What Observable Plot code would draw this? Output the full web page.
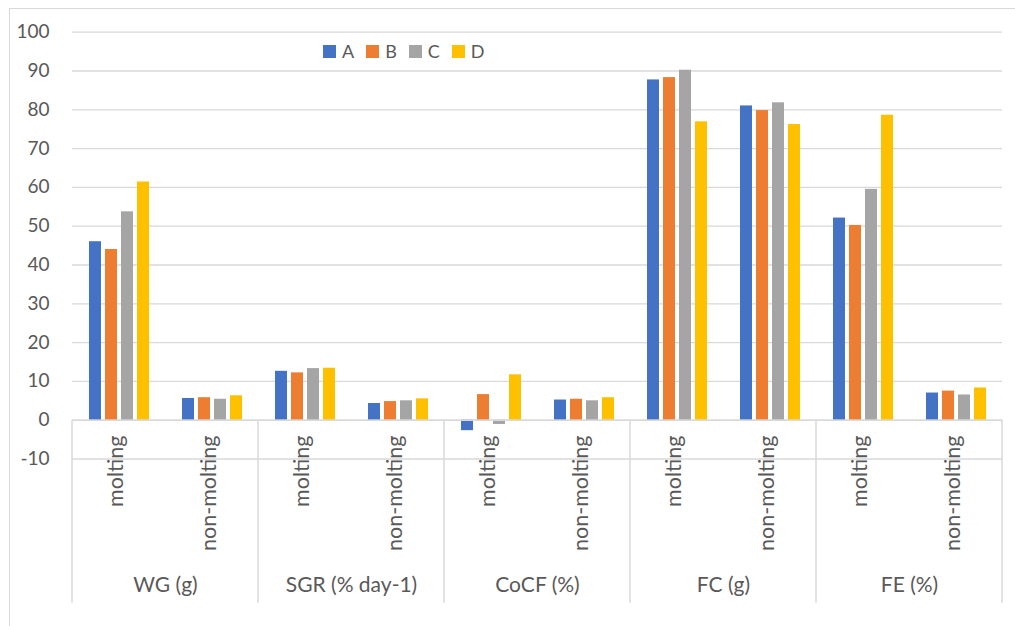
<!DOCTYPE html>
<html>
<head>
<meta charset="utf-8">
<script src="https://cdn.jsdelivr.net/npm/d3@7"></script>
<script src="https://cdn.jsdelivr.net/npm/@observablehq/plot@0.6"></script>
<style>
  html, body { margin: 0; padding: 0; background: #fff; overflow: hidden; }
  #wrap { position: relative; width: 1015px; height: 626px; }
  #border { position: absolute; left: 9px; top: 8px; width: 1100px; height: 700px; border: 1px solid #d9d9d9; box-sizing: border-box; }
  #legend { position: absolute; left: 323px; top: 40px; display: flex; font-family: Lato, sans-serif; font-size: 18px; color: #595959; }
  .li { display: flex; align-items: center; margin-right: 12px; }
  .sw { width: 13px; height: 13px; margin-right: 6px; }
  svg { position: absolute; left: 0; top: 0; }
</style>
</head>
<body>
<div id="wrap">
  <div id="border"></div>
  <div id="chart"></div>
  <div id="legend"></div>
</div>
<script>
const groups = ["WG (g)", "SGR (% day-1)", "CoCF (%)", "FC (g)", "FE (%)"];
const subs = ["molting", "non-molting"];
const series = ["A", "B", "C", "D"];
const colors = ["#4472C4", "#ED7D31", "#A5A5A5", "#FFC000"];
const valuesA = [46.0, 5.6, 12.6, 4.3, -2.7, 5.2, 87.7, 81.0, 52.1, 7.0];
const valuesB = [44.0, 5.8, 12.2, 4.8, 6.6, 5.4, 88.3, 79.8, 50.2, 7.5];
const valuesC = [53.7, 5.4, 13.3, 5.0, -1.1, 5.0, 90.2, 81.8, 59.5, 6.5];
const valuesD = [61.4, 6.3, 13.4, 5.5, 11.7, 5.8, 76.9, 76.2, 78.6, 8.3];
const yTicks = [-10, 0, 10, 20, 30, 40, 50, 60, 70, 80, 90, 100];

const seriesValues = [valuesA, valuesB, valuesC, valuesD];
const cats = [];
groups.forEach(g => subs.forEach(s => cats.push({group: g, sub: s, key: g + "|" + s})));
const keys = cats.map(c => c.key);
const data = [];
cats.forEach((c, i) => series.forEach((s, j) => data.push({key: c.key, series: s, value: seriesValues[j][i]})));
const groupData = groups.map(g => ({group: g, key: g + "|" + subs[0]}));

const W = 1015, H = 626;
const mTop = 31.7, mBottom = 167.5, mLeft = 72, mRight = 13;
const textColor = "#595959", gridColor = "#d9d9d9";
const font = "Lato, sans-serif";

const plot = Plot.plot({
  width: W, height: H,
  marginTop: mTop, marginBottom: mBottom, marginLeft: mLeft, marginRight: mRight,
  style: {fontFamily: font, fontSize: "19px", color: textColor, background: "transparent", overflow: "visible"},
  fx: {domain: keys, padding: 0, axis: null},
  x: {domain: series, paddingInner: 0.25, paddingOuter: 0.88, axis: null},
  y: {domain: [-10, 100], ticks: yTicks, tickSize: 0, tickPadding: 23, label: null, tickFormat: d => String(d)},
  color: {domain: series, range: colors},
  marks: [
    Plot.ruleY(yTicks, {stroke: gridColor, strokeWidth: 1.3}),
    Plot.barY(data, {fx: "key", x: "series", y: "value", fill: "series"}),
    Plot.ruleY([0], {stroke: gridColor, strokeWidth: 1.5}),
    Plot.text(cats, {fx: "key", text: "sub", frameAnchor: "bottom", rotate: -90, textAnchor: "end", dx: 4, dy: -23.5, fontSize: 21.5, fill: textColor}),
    Plot.text(groupData, {fx: "key", text: "group", frameAnchor: "bottom-right", textAnchor: "middle", dy: 133, fontSize: 21, fill: textColor})
  ]
});
document.getElementById("chart").appendChild(plot);

// category separators drawn from the fx / y scales
const fx = plot.scale("fx");
const ys = plot.scale("y");
const bw = fx.bandwidth;
const sepX = groups.map(g => fx.apply(g + "|" + subs[0]));
sepX.push(fx.apply(keys[keys.length - 1]) + bw);
const axisDepth = 183;
const y0 = ys.apply(0);
const svg = d3.select(plot);
svg.append("g").selectAll("line").data(sepX).join("line")
  .attr("x1", d => d).attr("x2", d => d)
  .attr("y1", y0).attr("y2", y0 + axisDepth)
  .attr("stroke", gridColor).attr("stroke-width", 1.5);

// legend
const leg = d3.select("#legend");
series.forEach((s, i) => {
  const item = leg.append("div").attr("class", "li");
  item.append("div").attr("class", "sw").style("background", colors[i]);
  item.append("span").text(s);
});
</script>
</body>
</html>
